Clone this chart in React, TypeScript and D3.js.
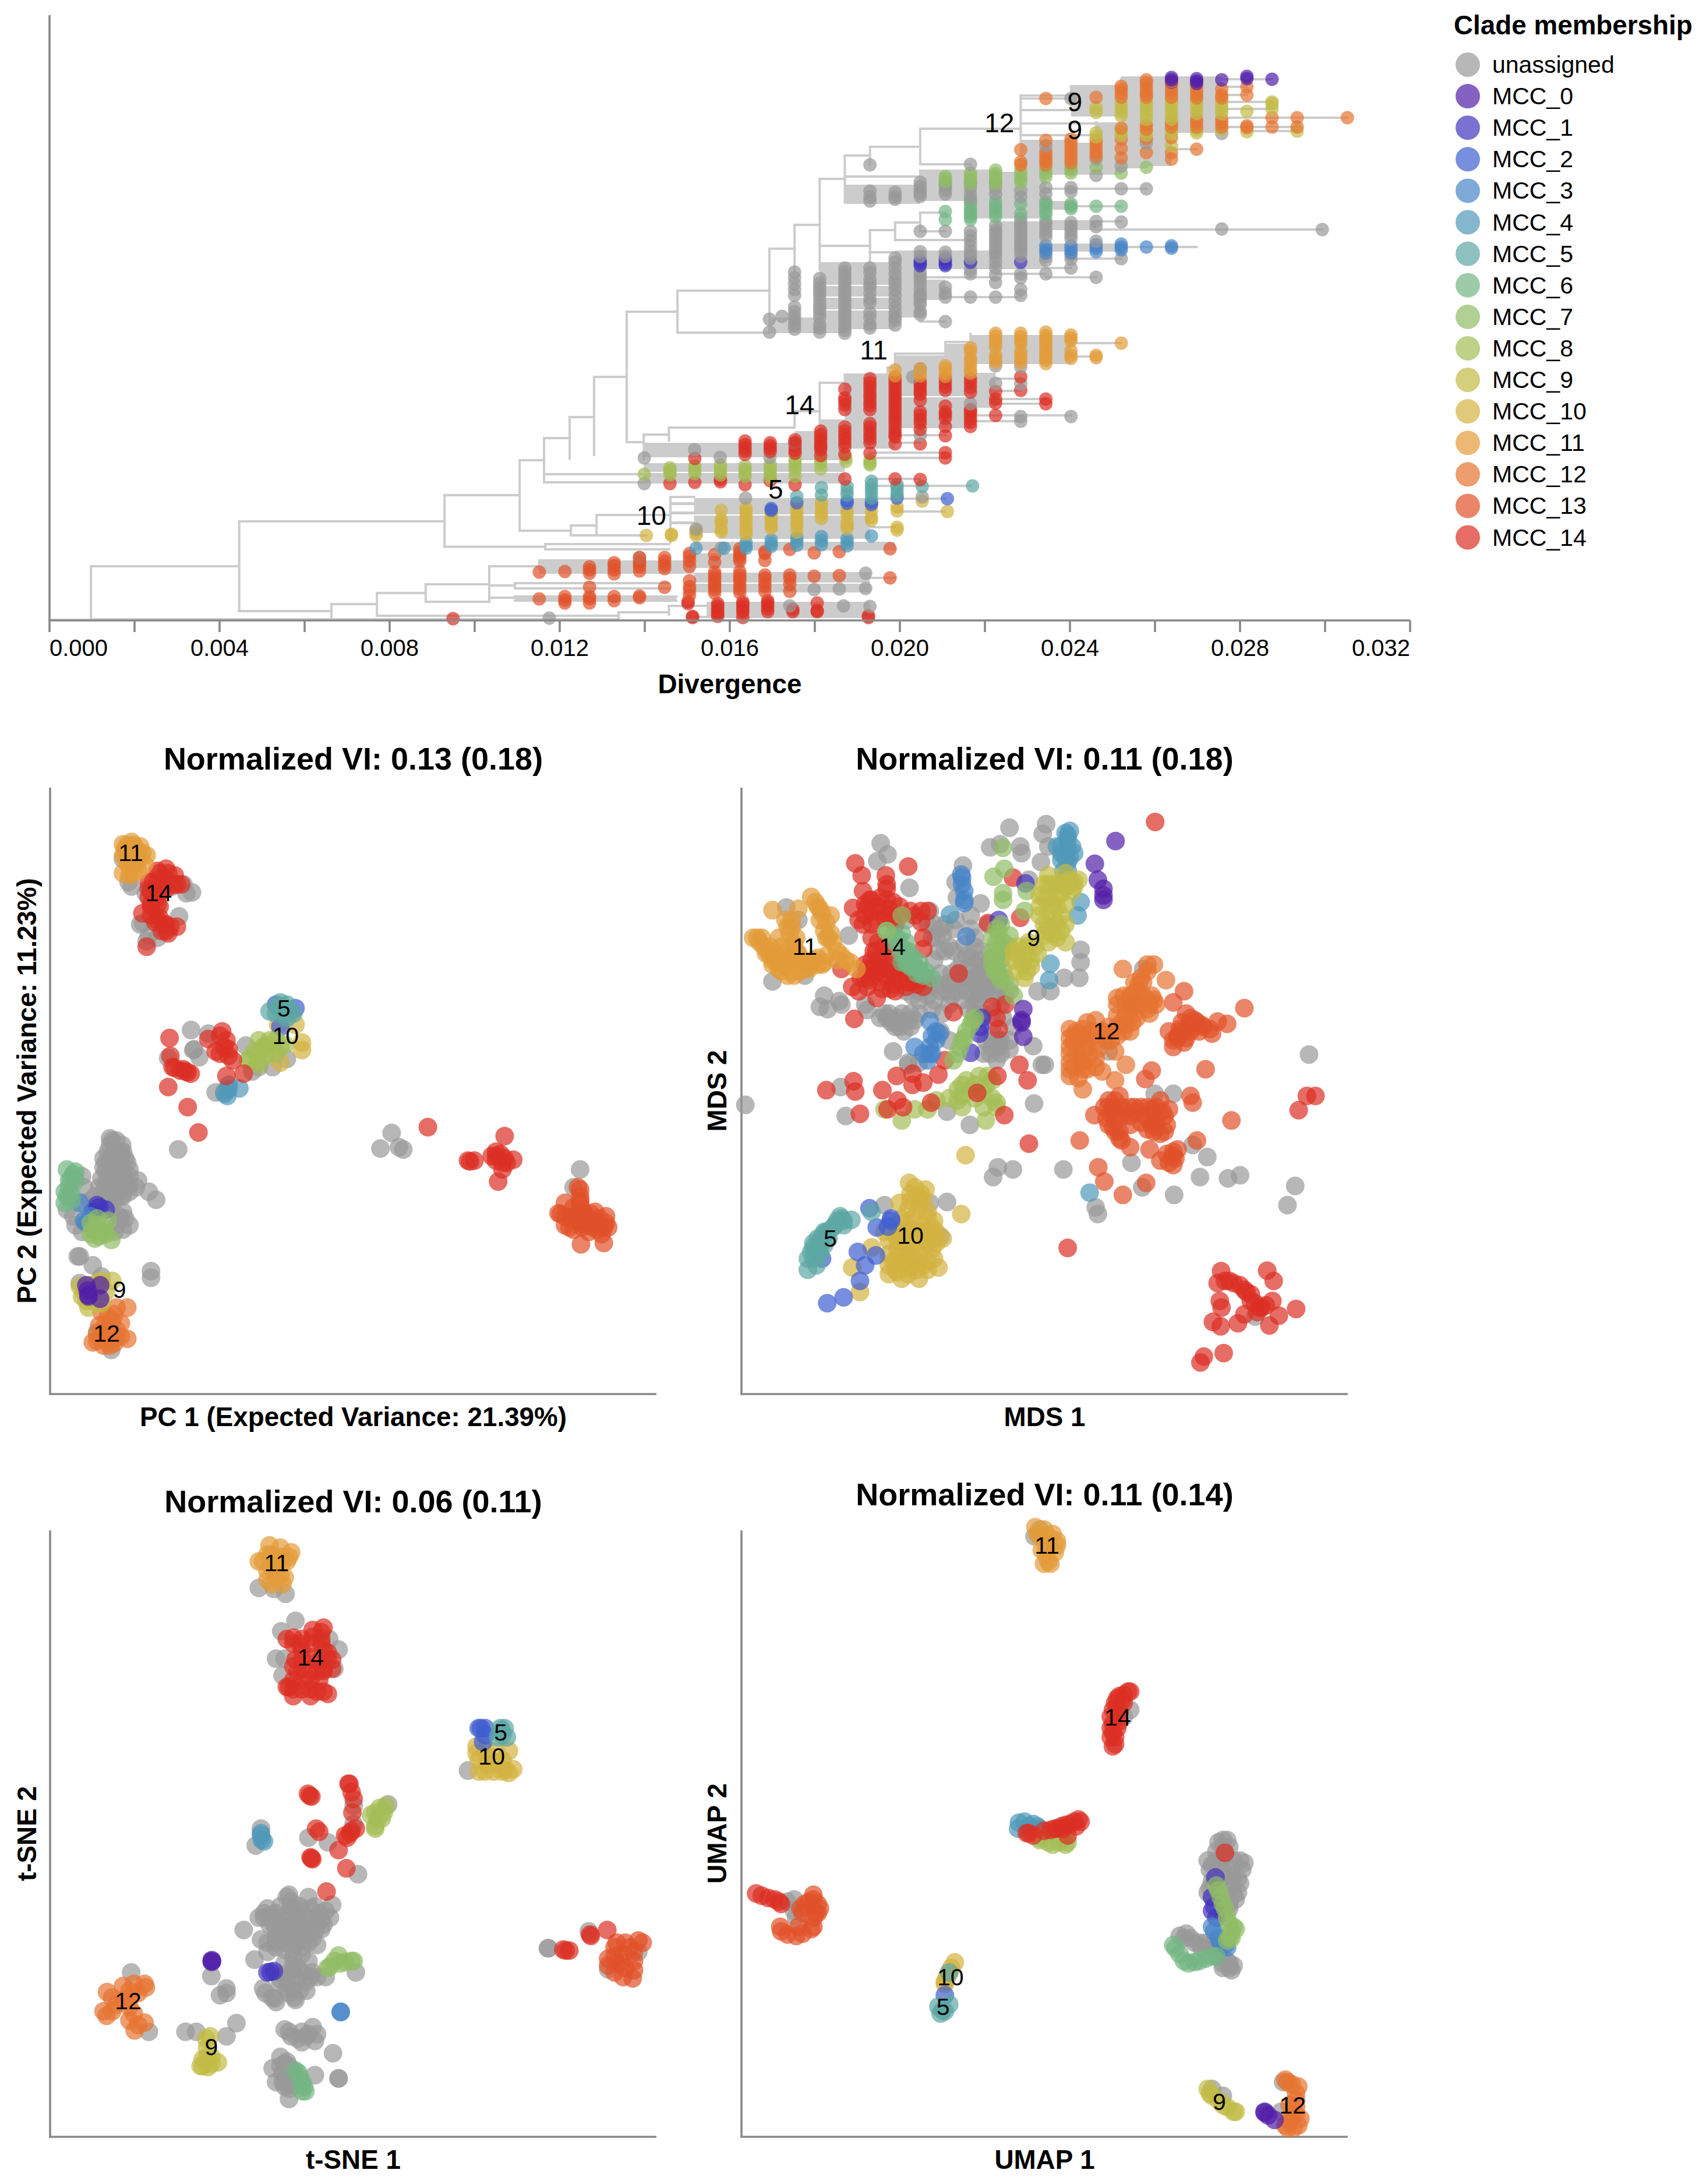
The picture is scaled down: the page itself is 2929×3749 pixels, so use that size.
import React from 'react';
import * as d3 from 'd3';

// ---------- clades ----------
const cladeNames = ['MCC_0','MCC_1','MCC_2','MCC_3','MCC_4','MCC_5','MCC_6','MCC_7','MCC_8','MCC_9','MCC_10','MCC_11','MCC_12','MCC_13','MCC_14'];
const cladeColors = ['#511EA8','#4334BF','#3F5ED0','#4784C7','#5098B9','#5CA7A4','#73B583','#90BC65','#A4BE56','#C2BA46','#D3B240','#E39B39','#E67431','#E1512A','#DC2F24'];
const unassignedColor = '#999999';
const cladeDrawOrder = [13,4,10,2,5,8,14,11,1,3,6,7,12,9,0];

// ---------- tree axis ----------
const divergenceTicks = [0,.002,.004,.006,.008,.01,.012,.014,.016,.018,.02,.022,.024,.026,.028,.03,.032];
const divergenceLabels = ['0.000','','0.004','','0.008','','0.012','','0.016','','0.020','','0.024','','0.028','','0.032'];
const mutationDivergence = 0.000591;
const rootMutations = 0.35;

// ---------- tree: horizontal branches [row, fromMutations, toMutations] ----------
const stemBranches = [[1064,.35,2],[972,2,7.9],[895,7.9,16.07],[850,16.07,19.06],[790,19.06,20.03],[814,20.03,24],[828,20.03,24],[752,20.03,21.05],[716,21.05,22.02],[647,22.02,23.32],[759,23.32,24],[746,24,25],[734,25,30],[706,30,31],[657,31,32],[643,32,33.7],[631,33.7,34],[607,34,36],[587,36,37],[535,23.32,25.34],[499,25.34,29],[571,25.34,29],[427,29,30],[386,30,31],[307,31,32],[267,32,33],[252,33,35],[282,35,37],[221,35,39],[303,32,35],[293,35,38],[422,31,33],[395,33,34],[382,34,35],[365,35,36],[397,35,36],[412,34,37],[433,33,34],[911,19.06,21.1],[902,21.1,22.12],[884,22.12,25.06],[919,21.1,24.1],[853,25.06,26],[938.6,16.07,20.08],[934,20.08,25],[943,20.08,25],[1049,7.9,11.57],[1037,11.57,13.38],[1018,13.38,15.32],[1003,15.32,17.85],[972,17.85,19.84],[962,19.84,23],[976,19.84,23],[1033,15.32,17.85],[1057,13.38,23],[1063,2,23],[1005,17.85,18.87],[1001,18.87,25],[1010,18.87,25],[1026,17.85,18.87],[1024,18.87,25.3],[1031,18.87,25.3],[1051,23,25],[1040,25,27]];
const tipBranches = [[136,43,49],[175,47,49],[187,47,49],[202,46,52],[218,47,50],[225,48,50],[256,44,46],[287,40,44],[297,40,43],[324,40,44],[354,40,43],[380,42,43],[394,42,51],[424,42,46],[444,41,43],[460,38,41],[476,40,42],[148,41,43],[164,39,41],[189,39,41],[169,39,42],[212,39,42],[232,39,42],[149,47,48],[163,47,48],[589,41,43],[612,41,42],[650,38,39],[671,37,39],[713,37,41],[723,37,39],[685,37,40],[693,38,40],[777,33,36],[786,33,36],[760,33,35],[747,34,36],[822,33,35],[834,33,37],[856,33,36],[878,34,36],[905,33,34],[920,32,33],[942,31,34],[984,29,33],[992,31,34],[1010,30,33],[1041,29,33],[1059,26,33],[510,35,39],[552,35,36],[476,35,38],[470,38,40]];
// ---------- tree: vertical connectors [mutations, fromRow, toRow] ----------
const connectors = [[2,972,1064],[7.9,895,1049],[16.07,850,938.6],[19.06,790,911],[20.03,752,828],[21.05,716,787],[22.02,647,781],[23.32,535,759],[25.34,499,571],[24,746,788],[25,734,756],[30,706,734],[31,657,743],[32,643,673],[33.7,631,643],[34,607,631],[36,587,610],[37,573,600],[29,427,570],[30,386,467],[31,307,463],[32,267,347],[33,252,283],[35,221,282],[35,293,330],[33,395,450],[34,382,412],[35,365,397],[21.1,902,919],[22.12,884,919],[25.06,853,931],[20.08,934,943],[11.57,1037,1063],[13.38,1018,1057],[15.32,1003,1033],[17.85,972,1031],[19.84,962,976],[18.87,1001,1010],[39,164,225],[39,221,290],[41,148,189],[43,135,150],[42,210,232],[23,1051,1062],[25,1040,1055]];
// ---------- tree: dense bundles of tip branches [fromMutations, toMutations, fromRow, toRow] ----------
const branchBundles = [[32,35,317,350],[35,40,295,345],[37,40,345,375],[38,40,380,440],[34,40,430,462],[31,34,450,489],[31,34,491,509],[31,34,511,531],[31,34,533,565],[34,35,450,545],[35,36,480,515],[29,32,545,572],[39,41,240,300],[40,43,245,300],[41,43,150,200],[43,47,131,228],[42,45,210,285],[40,43,418,432],[40,42,378,395],[40,41,345,360],[37,41,575,625],[36,37,590,630],[34,36,610,640],[34,37,627,680],[34,37,682,735],[32,34,645,735],[31,34,720,770],[30,32,740,790],[37,38,640,700],[24,30,760,785],[24,32,795,810],[24,32,812,830],[30,32,745,790],[26,33,855,883],[26,33,885,915],[27,33,915,925],[25.06,27,862,867],[25.06,27,878,883],[25.06,27,895,900],[26,34,930,945],[19.84,26,962,985],[26,28,950,975],[26,33,983,1000],[26,33,1002,1017],[26.5,33,1033,1060],[18.87,25.3,1024,1031]];

// ---------- tree tips: [mutations, row, row, ...] ----------
const tipsUnassigned = [[29,548,570],[29.5,543],[30,467,477,487,497,507,527,535,543,550,558,565],[31,478,486,493,500,507,515,523,530,537,545,557,563,570],[32,460,467,473,480,487,494,500,507,513,520,527,534,540,547,553,560,567,572],[33,283,328,338,345,460,468,480,487,493,503,513,520,537,545,557,563],[34,330,337,342,443,450,460,470,480,488,497,507,517,527,537,545,550,558],[35,313,320,327,332,337,397,432,440,467,473,480,488,497,505,510,517,523,535,540,633,747],[36,315,320,327,333,397,433,440,493,503,510,552],[37,282,315,323,333,340,397,405,413,422,430,437,443,452,463,470,510,693],[38,315,323,333,387,395,400,407,413,420,427,433,440,450,460,472,485,510,628,658],[39,327,338,375,382,388,393,400,407,413,420,426,432,440,470,477,497,507,630,659,715,723],[40,250,322,333,379,385,393,400,407,440,447,470],[41,169,322,329,382,389,396,403,410,438,445,460,715],[42,273,301,380,389,414,476],[43,285,324,381,444],[44,246,324],[47,229,393],[51,394],[34.7,647],[24.02,786,830],[26.02,772],[27.04,785],[28.05,855],[29.02,785],[30,760],[23.83,957],[30.78,1012],[31.78,1011],[29.81,1040],[31.95,1040],[32.83,984,1010],[33,1041],[20.24,1061],[27.08,941],[26.08,908],[35.08,853]];
const tipsMcc0 = [[45,133,137,141],[46,135,139,143],[47,137],[48,131,135],[49,136]];
const tipsMcc1 = [[35,448,452,456],[36,444,448,453,456],[37,450],[39,450]];
const tipsMcc2 = [[29.07,873,876],[30.09,863],[32.09,860,864],[33.06,862,866],[34.08,855],[36.08,856]];
const tipsMcc3 = [[40,422,428,434],[41,422,428,434],[42,420,426,432],[43,419,424,429],[44,424],[45,422,426]];
const tipsMcc4 = [[26.08,941],[27.2,941],[28.07,931,937,941],[29.07,927,933,938],[30.09,923,929,936],[31.07,921,928,935],[32.09,925,931,937],[33.06,920]];
const tipsMcc5 = [[30.09,852],[31.07,837,850],[32.09,835,843,850],[33.06,826,833,840,847,855],[34.08,832,837,844,850],[35.08,835],[37.08,834]];
const tipsMcc6 = [[36,363,377],[37,345,350,357,362,367,372,377],[38,345,352,358,365,372],[39,350,367],[40,346,350,356,363,368],[41,350,354,358],[42,354],[43,354]];
const tipsMcc7 = [[36,303,307,312],[37,297,303,309,315],[38,292,298,304,310,315],[39,293,300,307,313],[40,290,297,304],[41,288,292,297],[42,287],[43,297],[44,287]];
const tipsMcc8 = [[24.02,814],[25.04,803,807,811,815],[26.03,800,807,813],[27.05,798,804,810,815],[28.03,800,806,812,818],[29.03,797,803,809,815,820],[30.02,789,795,801,807,818],[31.04,789,795,805],[32.04,786,792],[33,790,795,798]];
const tipsMcc9 = [[42,185,193,228,235],[43,178,185,192,199,226,232],[44,175,182,190,197,205,225,232],[45,172,178,185,192,199,205,223,230,250],[46,172,180,188,195,223,228],[47,175,182,188,195,222],[48,191,226],[49,175,178,187],[50,225]];
const tipsMcc10 = [[24.1,919],[25.1,917,919],[26.08,911,915,919],[27.08,876,892,897,908,913],[28.07,872,878,885,892,900,907,913,917],[29.07,878,883,890,897,903,907],[30.09,870,877,883,890,897,903,913],[31.07,862,868,877,883,890],[32.09,877,883,896,902,907],[33.06,868,877,888,893],[34.08,870,877,905,910],[35.08,860],[36.08,878]];
const tipsMcc11 = [[34,635,645],[35,633,640,645],[36,628,633,640,646],[37,597,603,615,621,628,635,640],[38,572,577,583,590,596,610,617,622],[39,572,578,585,590,603,610,616,623],[40,570,576,582,587,593,600,606,612,618,624],[41,575,580,585,602,610,615],[42,610,614],[43,589]];
const tipsMcc12 = [[39,257,278,283],[40,169,241,260,266,272,277,283],[41,239,245,252,259,266,273,280],[42,167,241,248,255,262,268],[43,148,153,160,167,220,239,255,271],[44,137,142,149,156,162,167,215,222,238,262],[45,140,146,153,160,167,211,218,236,262,273],[46,148,155,162,168,205,211,218,256],[47,153,163,168,205,211,218],[48,149,163,216,219],[49,202,218],[50,202,218],[52,202]];
const tipsMcc13 = [[19.84,982,1028],[20.86,981,1024,1030,1035],[21.84,973,978,984,1008,1024,1028,1035],[22.82,966,971,978,985,1024,1031],[23.83,957,963,968,973,980,1023,1026],[24.83,957,963,970,976,1008],[25.82,950,955,963,972,997,1007,1013,1022],[26.82,952,965,982,987,992,997,1002,1007,1012,1018],[27.82,942,948,953,958,963,981,987,992,997,1005,1011,1017],[28.82,947,950,962,987,992,1000,1007,1015],[29.81,943,987,993,1003,1015],[30.78,949,989],[31.78,947,988],[33.8,942,992]];
const tipsMcc14 = [[16.41,1062],[25.76,1033,1036],[25.94,1058,1060],[26.94,1036,1040,1045,1050,1054,1058],[27.94,1033,1037,1042,1047,1052,1060],[28.93,1031,1035,1040,1045,1050],[29.93,1046,1050],[30.9,1035,1048,1050],[32.94,1057,1060],[25.04,830],[26.03,787,828],[27.05,823,827],[28.03,757,763,768,774,780,832],[29.03,760,765,770,775,825],[30.02,755,760,766,773,778,832],[31.04,740,746,752,757,763,767,772,782],[32,668,683,688,695,703,733,740,747,753,760,767,780,822],[33,650,657,663,670,677,683,690,696,703,727,733,740,747,753,760,778],[34,648,654,660,666,672,678,684,690,696,702,708,714,720,726,733,740,746,750,762,822],[35,655,660,666,672,677,687,707,713,720,727,737,762,823],[36,650,657,664,670,697,707,712,718,732,748,777,786],[37,650,657,665,673,703,707,713,719,725,732],[38,672,685,692,713],[39,647,670],[40,685,693]];

// ---------- tree clade labels [text, mutations, row] ----------
const treeLabelText = ['12','9','9','11','14','5','10'];
const treeLabelMutations = [38.15,41.15,41.15,33.15,30.2,29.25,24.3];
const treeLabelRows = [211,175,223,601,695,840,885];

// ---------- legend ----------
const legendTitle = 'Clade membership';
const legendEntries = ['unassigned', ...cladeNames];

// ---------- PCA embedding ----------
const pcaUnassigned = [[285,293],[305,355],[432,370],[445,368],[425,350],[415,422],[332,437],[340,478],[365,470],[350,370],[338,370],[325,440],[345,465],[400,355],[298,345],[443,677],[483,685],[450,720],[448,722],[462,738],[390,740],[500,817],[520,815],[585,770],[632,760],[665,742],[600,760],[570,712],[413,945],[908,908],[882,943],[925,940],[935,945],[1345,990],[1330,1030],[255,920],[283,935],[250,950],[280,950],[260,970],[290,965],[240,985],[270,985],[300,990],[250,1010],[280,1010],[320,1015],[230,1030],[260,1035],[290,1030],[315,1030],[345,1040],[362,1058],[220,1050],[250,1055],[280,1050],[195,1030],[190,1005],[155,1080],[175,1115],[290,1100],[270,1115],[285,1085],[185,1185],[215,1205],[350,1218],[350,1233],[185,1245],[235,1230],[258,1395],[225,1355],[255,935],[270,925],[285,950],[240,965],[255,965],[275,965],[295,975],[245,995],[265,1000],[285,995],[300,1005],[235,1010],[265,1020],[280,1030],[300,1025],[240,1040],[270,1050],[225,1065],[255,1070],[300,1115],[285,1125],[265,1130],[190,1130],[170,1095],[195,1065],[180,1185],[260,925],[265,950],[245,975],[270,975],[280,975],[290,1010],[245,1025],[285,1050],[250,1040],[265,1060],[300,1040],[240,1055],[210,1060],[280,1100],[275,1095]];
const pcaClades: Record<number, number[][]> = {
  6: [[155,990],[175,995],[165,1010],[160,1030],[155,1050],[150,1065],[165,1045],[170,1000],[160,1015],[175,1015],[150,1040],[165,1060]],
  3: [[185,1065],[195,1105],[210,1095],[200,1110]],
  1: [[225,1070],[245,1080],[215,1085],[230,1075]],
  7: [[225,1100],[215,1125],[240,1120],[210,1135],[258,1148],[250,1105],[230,1140],[225,1115],[235,1130],[210,1110],[245,1135],[220,1145]],
  9: [[185,1252],[190,1275],[205,1300],[235,1240],[260,1240],[245,1265],[215,1285],[210,1250],[235,1290],[195,1265],[220,1265],[200,1285],[225,1245]],
  0: [[200,1250],[205,1272],[232,1250],[232,1280],[203,1262],[205,1275]],
  12: [[235,1310],[270,1300],[295,1300],[230,1340],[260,1330],[280,1335],[225,1360],[255,1360],[280,1365],[295,1370],[215,1378],[240,1385],[265,1380],[250,1345],[270,1350],[240,1370],[255,1385],[270,1365],[225,1375],[245,1335],[265,1315],[250,1320]],
  11: [[295,262],[310,262],[290,275],[330,280],[310,295],[300,310],[285,325],[310,325],[290,270],[285,260],[305,255],[325,265],[340,285],[285,285],[305,280],[325,290],[295,300],[315,305],[335,305],[300,330],[320,320],[300,290],[315,270]],
  14: [[370,325],[390,325],[355,345],[380,345],[410,350],[350,365],[375,365],[350,395],[365,395],[330,415],[365,430],[385,440],[410,445],[385,455],[340,490],[365,320],[385,315],[405,330],[420,350],[345,345],[365,340],[385,340],[405,350],[345,360],[365,360],[385,360],[345,380],[365,380],[350,400],[370,400],[350,420],[370,425],[360,435],[380,440],[395,445],[375,455],[390,460],[393,695],[395,735],[400,760],[425,765],[435,772],[390,805],[435,850],[460,907],[483,697],[515,680],[525,700],[510,730],[530,720],[540,745],[525,780],[565,775],[510,690],[520,715],[500,725],[530,735],[405,762],[418,768],[430,770],[442,775],[992,895],[1170,915],[1085,970],[1100,970],[1150,950],[1150,970],[1170,965],[1190,968],[1165,990],[1155,1017],[1150,960],[1165,975],[1140,960],[1160,955],[1175,975],[1090,972]],
  5: [[625,635],[645,628],[665,620],[680,640],[660,640],[640,640],[655,625],[670,635],[650,615],[665,650]],
  2: [[685,628],[650,670],[640,620]],
  10: [[645,665],[685,665],[700,705],[700,722],[650,750]],
  8: [[580,740],[600,700],[620,710],[640,700],[600,730],[600,755],[630,720],[660,710],[610,715],[590,725],[575,745],[600,745],[625,700],[650,715],[615,735],[640,730]],
  4: [[527,825],[555,808],[530,800],[520,820],[530,810]],
  13: [[1345,1035],[1345,1060],[1310,1065],[1295,1088],[1310,1095],[1340,1090],[1380,1085],[1405,1095],[1320,1120],[1350,1120],[1385,1125],[1410,1120],[1347,1158],[1400,1155],[1365,1100],[1340,1030],[1345,1050],[1330,1075],[1350,1080],[1370,1090],[1390,1100],[1320,1100],[1340,1105],[1360,1115],[1400,1120],[1310,1115],[1375,1120],[1395,1135],[1330,1125],[1345,1110],[1300,1090],[1330,1095],[1360,1095],[1380,1105],[1405,1110],[1365,1130],[1390,1115],[1355,1100],[1345,1085],[1345,1065]],
};
const pcaLabels: [string, number, number][] = [['11',303,280],['14',368,370],['5',658,628],['10',662,690],['9',277,1260],['12',247,1358]];

// ---------- MDS embedding ----------
const mdsUnassigned = [[381,258],[397,283],[373,298],[448,358],[162,402],[190,430],[130,568],[205,555],[307,465],[250,600],[285,612],[258,630],[350,632],[495,410],[520,450],[525,465],[505,520],[470,550],[440,590],[490,600],[525,640],[550,570],[580,590],[610,580],[640,560],[570,520],[590,515],[615,500],[540,620],[570,610],[605,610],[640,600],[600,640],[660,620],[620,540],[650,530],[655,700],[640,700],[660,730],[635,730],[410,725],[395,650],[420,650],[445,655],[460,655],[415,670],[380,650],[440,430],[445,750],[470,750],[680,223],[658,260],[635,267],[705,265],[708,280],[753,300],[765,215],[757,237],[770,265],[572,308],[555,345],[613,393],[590,420],[558,380],[630,440],[575,485],[725,340],[845,497],[845,525],[807,560],[842,560],[775,590],[745,590],[735,713],[755,755],[762,755],[737,842],[588,890],[535,860],[67,845],[300,870],[288,805],[653,985],[688,990],[642,1007],[805,990],[880,1075],[885,1090],[1017,820],[1060,820],[963,975],[1139,962],[1105,935],[1122,1007],[1187,1010],[1215,1003],[1062,1047],[988,1030],[1375,732],[1343,1027],[1325,1070],[1250,1320],[535,1063],[520,1140],[495,1065],[390,1070],[965,620],[990,540],[910,725],[570,560],[590,560],[610,560],[630,550],[600,530],[620,570],[560,590],[545,600],[595,600],[630,575],[650,590],[610,595],[540,570],[515,575],[490,570],[680,590],[600,620],[640,680],[625,700],[660,700],[680,720],[620,730],[390,640],[405,660],[430,660],[450,640],[470,640],[400,640],[430,640],[530,500],[550,450],[580,510],[540,490],[600,470],[610,550],[490,440],[510,470],[455,600],[470,590],[500,630],[520,680],[540,700],[560,540],[585,540],[610,520],[635,520],[575,575],[600,575],[625,590],[655,575],[670,600],[520,590],[505,610],[535,590],[585,630],[620,640],[640,640],[665,650],[690,670],[640,715],[655,715],[680,700],[650,745],[445,755],[550,500],[555,430],[530,440],[505,440],[500,470],[515,500],[590,450],[600,490],[410,655],[425,670],[450,670],[435,680],[240,625],[290,620],[345,620],[495,580],[470,610],[520,550],[545,550]];
const mdsClades: Record<number, number[][]> = {
  14: [[322,303],[337,330],[445,310],[393,330],[340,365],[395,360],[317,403],[355,385],[395,385],[425,400],[490,410],[340,440],[370,430],[415,440],[475,435],[450,410],[375,480],[480,495],[385,520],[370,550],[410,550],[450,570],[290,540],[315,580],[330,590],[372,605],[405,585],[320,652],[440,570],[380,570],[562,550],[630,437],[705,425],[688,335],[550,637],[640,625],[670,620],[650,650],[655,675],[530,745],[515,777],[418,780],[455,775],[455,800],[480,795],[385,812],[420,835],[397,855],[433,850],[498,840],[605,818],[652,780],[722,790],[703,755],[668,868],[318,792],[322,815],[255,812],[333,865],[725,932],[815,1166],[1018,210],[395,350],[360,385],[380,380],[410,390],[350,400],[375,400],[400,405],[425,420],[345,420],[360,440],[390,425],[460,420],[475,410],[370,500],[390,490],[360,520],[375,520],[400,530],[350,540],[375,545],[395,560],[420,565],[440,560],[465,575],[480,580],[410,575],[355,565],[385,585],[430,520],[345,560],[360,470],[480,470],[345,395],[360,410],[380,410],[400,420],[410,430],[330,430],[365,500],[345,530],[365,535],[385,535],[405,540],[425,545],[445,550],[460,560],[335,560],[350,580],[470,565],[400,500],[425,540],[455,540],[440,580],[415,590],[1171,1218],[1163,1245],[1190,1240],[1215,1250],[1230,1265],[1240,1285],[1260,1300],[1278,1217],[1293,1240],[1290,1285],[1168,1285],[1172,1300],[1225,1315],[1345,1303],[1305,1318],[1283,1340],[1210,1335],[1152,1332],[1170,1342],[1123,1423],[1131,1410],[1177,1402],[1351,857],[1390,825],[1370,825],[1180,1240],[1200,1245],[1225,1260],[1240,1270],[1250,1290],[1265,1300],[1275,1295],[1255,1310]],
  11: [[220,378],[130,408],[190,405],[240,405],[235,400],[160,430],[175,445],[265,420],[265,460],[85,470],[105,470],[125,490],[145,470],[185,470],[115,505],[150,510],[180,520],[220,530],[130,530],[150,545],[180,555],[205,540],[245,530],[290,510],[310,525],[325,540],[260,470],[95,470],[110,490],[125,510],[140,525],[160,535],[175,545],[195,545],[215,540],[235,530],[255,510],[165,445],[170,460],[180,485],[190,505],[165,520],[230,390],[245,415],[255,435],[250,455],[270,480],[280,500],[300,520],[200,520],[235,515],[130,520],[150,490],[120,500],[135,505],[165,500],[210,525],[225,520],[250,525],[185,500],[175,430],[240,430],[255,470],[100,480],[145,540],[165,555],[195,530],[280,520],[160,520]],
  6: [[395,455],[410,465],[440,480],[450,510],[430,525],[460,535],[480,555],[500,560],[430,460],[465,550],[425,490],[445,500],[430,505],[440,525],[455,520],[470,540],[485,545],[420,470],[435,495],[450,535],[415,480],[455,515],[470,525],[445,530],[475,550],[440,510]],
  3: [[568,328],[575,365],[575,392],[580,467],[495,657],[518,685],[495,715],[460,715],[490,745],[510,700],[570,335],[575,385],[500,730],[500,690],[510,680],[480,730],[495,730],[570,350]],
  4: [[542,418],[820,230],[815,250],[815,270],[800,280],[830,280],[815,300],[805,320],[775,528],[772,565],[845,390],[838,420],[866,1042],[815,240],[820,290],[800,295],[790,265],[810,235],[825,265],[810,290],[800,265],[815,320]],
  0: [[926,253],[878,304],[885,340],[898,360],[898,385],[712,630],[708,660],[712,692],[898,375],[708,655]],
  1: [[717,348],[655,430],[615,650],[610,685],[590,728],[612,670]],
  7: [[665,268],[643,333],[668,315],[665,370],[665,385],[720,365],[715,410],[660,440],[680,465],[650,480],[650,510],[650,540],[670,560],[690,600],[600,650],[580,680],[570,700],[560,730],[550,745],[430,420],[395,455],[590,665],[595,655],[575,695],[565,715],[655,460],[665,480],[640,500],[660,520],[640,530],[655,555],[680,575],[665,540],[650,450],[640,470],[670,500],[645,545],[660,500],[680,490],[660,565],[640,515]],
  9: [[770,350],[810,325],[840,340],[790,380],[770,410],[800,420],[770,445],[790,470],[810,480],[760,465],[720,490],[690,500],[710,530],[715,560],[730,520],[750,375],[825,365],[780,350],[760,380],[780,395],[800,370],[830,345],[750,420],[760,440],[785,430],[810,440],[780,460],[770,480],[740,490],[720,510],[700,510],[700,545],[720,545],[690,520],[770,330],[800,345],[820,340],[790,400],[810,395],[770,380],[750,400],[790,440],[765,455],[745,505],[725,480],[700,490],[730,535],[800,455],[830,355],[790,350],[810,355],[760,350]],
  8: [[630,780],[610,780],[580,790],[560,810],[540,830],[510,835],[620,820],[650,850],[625,880],[390,855],[430,880],[460,855],[490,855],[570,850],[650,840],[600,800],[570,825],[590,810],[570,800],[600,830],[625,800],[640,790],[640,830],[560,835],[620,850]],
  12: [[943,540],[1015,530],[1000,545],[970,570],[1043,565],[930,605],[965,600],[1000,610],[1005,640],[960,630],[940,660],[960,680],[820,675],[850,675],[880,655],[910,670],[820,715],[850,700],[880,700],[905,700],[820,750],[850,750],[880,740],[820,780],[850,810],[895,770],[925,725],[950,755],[925,790],[960,600],[975,590],[990,570],[1010,600],[1020,620],[950,640],[980,620],[1000,630],[975,650],[945,680],[965,660],[930,690],[830,690],[850,690],[870,680],[895,680],[830,705],[860,715],[885,720],[835,730],[865,735],[830,760],[860,765],[840,785],[915,700],[1000,530],[985,560],[945,600],[930,620],[860,660],[820,695],[820,730],[820,765],[835,680],[840,700],[850,720],[875,690],[845,745],[850,765],[880,760],[905,685],[930,645],[950,620],[980,575],[1005,620],[990,600],[1015,610],[970,640],[950,665],[930,670],[960,615]],
  13: [[1085,590],[1060,615],[1225,628],[1100,650],[1075,675],[1050,680],[1100,680],[1130,670],[1060,715],[1085,705],[1150,685],[1185,663],[1163,658],[1135,765],[1010,768],[995,787],[910,835],[935,825],[877,868],[915,865],[960,850],[1000,850],[1030,835],[1050,855],[920,895],[960,890],[1010,890],[1040,905],[940,925],[960,940],[1005,945],[1070,945],[1030,970],[1060,980],[1115,925],[1100,825],[1105,840],[1195,880],[843,925],[886,985],[900,1017],[997,1020],[943,1047],[1080,680],[1100,665],[1120,680],[1090,695],[1070,695],[1115,660],[1090,640],[1105,670],[1145,675],[900,850],[920,850],[940,850],[975,860],[995,870],[1015,865],[1035,860],[905,875],[925,880],[945,870],[985,885],[1015,905],[1030,910],[925,905],[935,920],[1000,900],[1060,950],[1065,965],[1045,955],[1020,880],[960,870],[910,850],[925,835],[950,860],[930,865],[970,850],[985,850],[1010,855],[1040,870],[1000,875],[1020,895],[910,890],[935,905],[1045,890],[1020,850],[1070,690],[1110,655],[1095,670],[1060,700],[1080,660],[1125,665],[1060,960],[1050,975]],
  10: [[578,958],[447,1020],[485,1035],[465,1050],[425,1065],[468,1080],[505,1105],[430,1100],[475,1115],[510,1130],[420,1150],[400,1150],[470,1150],[525,1145],[445,1180],[490,1195],[410,1195],[515,1210],[400,1225],[430,1235],[470,1235],[568,1090],[360,1165],[315,1210],[333,1265],[450,1060],[480,1060],[445,1080],[490,1085],[440,1110],[455,1100],[500,1120],[420,1125],[440,1130],[490,1130],[505,1145],[440,1155],[490,1155],[420,1170],[460,1170],[500,1170],[430,1200],[450,1205],[470,1200],[490,1215],[415,1215],[445,1225],[465,1215],[400,1180],[390,1130],[460,1030],[475,1045],[450,1045],[470,1065],[490,1100],[480,1130],[455,1125],[430,1145],[415,1135],[460,1140],[480,1165],[510,1155],[440,1170],[400,1205],[420,1220],[440,1210],[460,1190],[480,1205],[505,1190],[425,1185]],
  2: [[355,1077],[405,1100],[398,1118],[372,1120],[328,1175],[370,1183],[345,1205],[333,1240],[295,1277],[257,1290],[245,1190],[405,1105]],
  5: [[287,1095],[313,1103],[295,1115],[255,1130],[235,1145],[225,1155],[250,1160],[240,1180],[212,1190],[232,1205],[212,1215],[360,1085],[270,1120],[280,1105],[290,1100],[245,1140],[240,1155],[260,1145],[235,1170],[225,1190],[250,1130],[295,1105],[220,1175],[225,1165],[260,1130],[275,1115],[240,1165]],
};
const mdsLabels: [string, number, number][] = [['11',205,490],['14',408,490],['9',736,470],['12',905,680],['5',264,1145],['10',450,1138]];

// ---------- t-SNE embedding ----------
const tsneUnassigned = [[600,263],[635,265],[662,276],[685,335],[652,358],[785,398],[640,418],[660,418],[775,440],[655,455],[763,375],[605,790],[593,827],[715,810],[760,820],[820,740],[900,737],[820,780],[830,890],[1085,663],[670,935],[675,960],[715,940],[770,957],[620,965],[612,985],[650,985],[690,980],[740,975],[765,985],[625,1000],[660,1005],[700,1005],[745,1010],[565,1012],[605,1033],[640,1030],[680,1035],[725,1030],[620,1060],[660,1055],[700,1050],[590,1077],[715,1080],[490,1113],[680,1090],[700,1105],[655,1110],[720,1115],[755,1115],[825,1105],[525,1140],[510,1155],[615,1150],[637,1162],[682,1160],[710,1145],[670,1235],[700,1235],[725,1225],[700,1258],[730,1255],[772,1282],[430,1235],[455,1235],[525,1245],[548,1216],[632,1315],[660,1305],[680,1320],[730,1330],[785,1337],[660,1355],[670,1382],[1270,1052],[1365,1015],[345,1235],[304,1105],[1410,1098],[1480,1060],[665,940],[670,975],[680,965],[700,970],[720,965],[650,1000],[670,1020],[690,1020],[710,1020],[730,1015],[750,1000],[640,1015],[660,1040],[680,1055],[700,1065],[735,1045],[725,990],[705,985],[745,990],[670,1000],[620,1040],[640,1050],[680,1075],[660,1085],[690,1120],[710,1125],[680,1140],[650,1130],[665,1125],[630,1160],[675,1245],[710,1245],[715,1240],[660,1340],[655,1325],[670,1360],[650,1290],[665,1300],[670,1310],[1272,1052],[785,1337],[525,1150],[640,1345],[612,975],[600,985],[650,960],[640,975],[625,980],[695,960],[730,960],[755,970],[635,1000],[655,1020],[685,1000],[715,1000],[735,1000],[690,1040],[715,1040],[640,1040],[700,1035],[675,950],[680,1100],[665,1140],[695,1145],[670,1150],[650,1120],[690,1095],[725,1105],[735,1115],[610,1140],[640,1170],[685,1165],[690,1250],[660,1230],[735,1240],[655,1345],[665,1335],[650,1310],[670,1350]];
const tsneClades: Record<number, number[][]> = {
  11: [[625,170],[650,175],[675,185],[610,205],[640,205],[665,205],[620,225],[650,235],[630,255],[655,255],[630,190],[650,195],[620,190],[670,195],[630,220],[650,215],[640,240],[620,245],[660,240],[600,205]],
  14: [[725,355],[745,360],[680,372],[700,400],[750,400],[685,420],[720,415],[760,420],[690,445],[720,445],[750,445],[680,485],[720,485],[750,490],[725,370],[745,375],[700,375],[680,385],[720,385],[745,385],[700,420],[680,435],[735,425],[760,405],[700,440],[735,445],[700,465],[720,465],[740,465],[680,465],[700,485],[735,490],[665,480],[750,440],[770,420],[695,385],[665,375],[770,440],[670,480],[680,500],[750,350],[720,500],[760,495],[810,692],[820,725],[718,718],[714,714],[722,720],[817,755],[733,790],[740,797],[815,795],[805,810],[722,855],[720,853],[724,857],[785,837],[803,877],[757,928],[1312,1057],[1320,1057],[1306,1055],[1370,1025],[1368,1022],[1408,1012],[808,692],[815,710],[812,800],[800,805],[825,790]],
  8: [[895,740],[870,755],[885,768],[870,785],[860,760],[880,745],[875,770],[870,790],[890,755]],
  4: [[605,805],[612,818],[605,800],[607,815]],
  2: [[1115,570],[1125,585],[1125,570],[1110,570],[1120,600]],
  5: [[1163,575],[1165,585],[1160,570],[1170,570],[1175,590],[1155,590]],
  10: [[1105,610],[1180,620],[1110,640],[1150,620],[1130,650],[1170,660],[1110,665],[1145,665],[1180,668],[1125,620],[1165,640],[1105,625],[1130,635],[1150,645],[1125,665],[1165,665],[1190,660]],
  0: [[491,1080],[491,1078],[491,1082]],
  1: [[620,1105],[635,1102],[627,1104]],
  7: [[815,1080],[785,1068],[765,1092],[790,1085],[800,1082],[775,1080],[760,1095],[820,1080]],
  3: [[790,1191],[790,1192]],
  13: [[1480,1035],[1450,1040],[1425,1050],[1470,1060],[1410,1090],[1440,1085],[1470,1100],[1445,1115],[1467,1118],[1430,1040],[1460,1050],[1445,1065],[1425,1070],[1410,1075],[1430,1085],[1450,1095],[1425,1105],[1470,1080],[1490,1040]],
  12: [[248,1148],[338,1138],[310,1130],[300,1160],[270,1175],[247,1200],[310,1195],[335,1215],[312,1232],[260,1160],[285,1165],[300,1145],[320,1150],[335,1130],[300,1180],[300,1210],[320,1220],[285,1135],[240,1190],[260,1190]],
  9: [[487,1245],[480,1270],[470,1310],[505,1302],[482,1312],[478,1250],[490,1290],[480,1290],[490,1305],[470,1295],[465,1310]],
  6: [[692,1325],[700,1345],[708,1365],[695,1335],[705,1355],[685,1320],[700,1365]],
};
const tsneLabels: [string, number, number][] = [['11',641,208],['14',720,415],['5',1161,580],['10',1140,632],['9',490,1268],['12',297,1168]];

// ---------- UMAP embedding ----------
const umapUnassigned = [[738,150],[1175,830],[1160,860],[1200,860],[1155,900],[1210,900],[1175,880],[1210,930],[1150,940],[1190,950],[1085,1030],[1120,1040],[1150,1050],[1190,1095],[165,950],[185,985],[960,530],[945,545],[1315,1345],[1310,1410],[1150,1360],[1175,1375],[1175,815],[1180,850],[1160,840],[1190,830],[1215,860],[1195,880],[1170,860],[1145,880],[1200,910],[1165,905],[1180,925],[1200,935],[1145,920],[1190,965],[1175,975],[1090,1020],[1110,1040],[1135,1040],[1165,1055],[1185,1080],[1175,1085],[180,945],[180,970],[750,135],[1190,1085],[1150,870],[1140,860],[1165,820],[1185,815],[1220,880],[1225,865],[1215,910],[1205,945],[1190,955],[1150,905],[1140,930],[1175,895],[1195,895],[1150,1045],[1100,1030],[1075,1025],[1125,1050],[1175,1095],[1195,1100],[1200,1090]];
const umapClades: Record<number, number[][]> = {
  11: [[745,145],[770,150],[790,170],[765,175],[770,205],[740,130],[760,135],[780,145],[790,160],[750,150],[770,165],[755,180],[785,185],[765,190],[775,210],[760,210]],
  14: [[960,490],[930,505],[920,530],[920,560],[920,580],[925,605],[955,490],[945,497],[935,500],[925,515],[945,515],[930,525],[915,545],[935,535],[915,570],[935,555],[915,590],[925,590],[930,570],[940,510],[920,610],[92,932],[120,942],[145,950],[105,937],[135,945],[150,955],[1180,843],[725,800],[775,793],[800,785],[840,770],[820,780],[815,805],[760,795],[790,790],[810,782],[830,775],[845,775],[785,790],[805,790],[835,785],[720,800],[735,805]],
  4: [[702,777],[735,780],[750,790],[715,775],[700,790],[725,785],[745,785]],
  8: [[750,815],[795,820],[815,820],[770,820],[750,810],[780,825],[810,825]],
  13: [[225,945],[195,965],[235,975],[225,1005],[200,1020],[165,1022],[148,1005],[225,935],[215,950],[205,955],[235,955],[240,965],[200,975],[225,985],[230,975],[220,1010],[185,1025],[150,1015],[190,1005]],
  10: [[553,1083],[540,1105],[530,1130],[545,1095],[535,1115],[530,1125]],
  5: [[540,1105],[525,1188],[540,1175],[515,1180],[530,1190],[520,1195]],
  2: [[530,1155]],
  1: [[1158,897],[1155,960],[1160,985],[1150,940],[1150,970]],
  7: [[1165,925],[1175,955],[1185,985],[1195,1015],[1190,1030],[1160,915],[1170,940],[1180,965],[1190,1000],[1200,1005],[1195,1030],[1185,1035],[1205,1010]],
  3: [[1155,1015],[1180,1045],[1150,1005],[1165,1030],[1170,1040],[1185,1050]],
  6: [[1065,1052],[1085,1080],[1120,1080],[1150,1070],[1060,1045],[1075,1065],[1095,1085],[1110,1082],[1135,1075],[1160,1070]],
  9: [[1145,1370],[1175,1395],[1200,1410],[1140,1360],[1150,1375],[1165,1385],[1185,1400],[1205,1410]],
  0: [[1272,1412],[1295,1428],[1272,1410],[1280,1418]],
  12: [[1325,1345],[1345,1370],[1345,1400],[1330,1430],[1350,1440],[1320,1440],[1320,1340],[1335,1350],[1350,1355],[1345,1385],[1330,1395],[1345,1415],[1335,1420],[1355,1425],[1325,1445],[1340,1445]],
};
const umapLabels: [string, number, number][] = [['11',767,170],['14',931,547],['10',543,1116],['5',526,1180],['9',1167,1388],['12',1337,1396]];

const panelTitles = ['Normalized VI: 0.13 (0.18)','Normalized VI: 0.11 (0.18)','Normalized VI: 0.06 (0.11)','Normalized VI: 0.11 (0.14)'];
const panelXTitles = ['PC 1 (Expected Variance: 21.39%)','MDS 1','t-SNE 1','UMAP 1'];
const panelYTitles = ['PC 2 (Expected Variance: 11.23%)','MDS 2','t-SNE 2','UMAP 2'];

const FONT = '"Liberation Sans", Arial, Helvetica, sans-serif';
const AXIS = '#888888';
const BRANCH = '#cccccc';

function Panel({ left, top, size, xDom, yDom, title, titleY, xTitle, yTitle, gray, clades, labels, yTitleX }: any) {
  const x = d3.scaleLinear().domain(xDom).range([left, left + size]);
  const y = d3.scaleLinear().domain(yDom).range([top, top + size]);
  const cx = left + size / 2;
  const cy = top + size / 2;
  return (
    <g>
      <line x1={left} x2={left} y1={top} y2={top + size} stroke={AXIS} strokeWidth={3.6} />
      <line x1={left - 2} x2={left + size} y1={top + size} y2={top + size} stroke={AXIS} strokeWidth={3.6} />
      {gray.map((p: number[], i: number) => (
        <circle key={'g' + i} cx={x(p[0])} cy={y(p[1])} r={16} fill={unassignedColor} fillOpacity={0.7} />
      ))}
      {cladeDrawOrder.map((c) =>
        (clades[c] || []).map((p: number[], i: number) => (
          <circle key={c + '-' + i} cx={x(p[0])} cy={y(p[1])} r={16} fill={cladeColors[c]} fillOpacity={0.7} />
        ))
      )}
      {labels.map((l: [string, number, number], i: number) => (
        <text key={i} x={x(l[1])} y={y(l[2])} textAnchor="middle" dominantBaseline="central" fontSize={41} fontFamily={FONT} fill="#000">{l[0]}</text>
      ))}
      <text x={cx} y={titleY} textAnchor="middle" dominantBaseline="central" fontSize={54} fontWeight="bold" fontFamily={FONT}>{title}</text>
      <text x={cx} y={top + size + 39} textAnchor="middle" dominantBaseline="central" fontSize={45.8} fontWeight="bold" fontFamily={FONT}>{xTitle}</text>
      <text transform={`translate(${yTitleX},${cy}) rotate(-90)`} textAnchor="middle" dominantBaseline="central" fontSize={45.8} fontWeight="bold" fontFamily={FONT}>{yTitle}</text>
    </g>
  );
}

export default function App() {
  const xTree = d3.scaleLinear().domain([0, 0.032]).range([85, 2421]);
  const yTree = d3.scaleLinear().domain([26, 1065]).range([26, 1065]);
  const xm = (n: number) => xTree((n - rootMutations) * mutationDivergence);

  const tips: { n: number; y: number; fill: string }[] = [];
  const addTips = (list: number[][], fill: string) => list.forEach(([n, ...rows]) => rows.forEach((r) => tips.push({ n, y: r, fill })));
  addTips(tipsUnassigned, unassignedColor);
  [tipsMcc0,tipsMcc1,tipsMcc2,tipsMcc3,tipsMcc4,tipsMcc5,tipsMcc6,tipsMcc7,tipsMcc8,tipsMcc9,tipsMcc10,tipsMcc11,tipsMcc12,tipsMcc13,tipsMcc14].forEach((l, i) => addTips(l, cladeColors[i]));
  const sortedTips = d3.sort(tips, (a, b) => d3.descending(a.y, b.y));

  const legendY = d3.scalePoint<string>().domain(legendEntries).range([111, 111 + 15 * 54.1]);
  const tickAnchor = (i: number) => (i === 0 ? 'start' : i === divergenceTicks.length - 1 ? 'end' : 'middle');

  return (
    <svg width={2929} height={3749} style={{ position: 'absolute', left: 0, top: 0, background: '#fff' }}>
      {/* tree */}
      {branchBundles.map((b, i) => (
        <rect key={'b' + i} x={xm(b[0])} width={xm(b[1]) - xm(b[0])} y={yTree(b[2])} height={yTree(b[3]) - yTree(b[2])} fill={BRANCH} />
      ))}
      {[...stemBranches, ...tipBranches].map((h, i) => (
        <line key={'h' + i} x1={xm(h[1])} x2={xm(h[2])} y1={yTree(h[0])} y2={yTree(h[0])} stroke={BRANCH} strokeWidth={4} strokeLinecap="square" />
      ))}
      {connectors.map((v, i) => (
        <line key={'v' + i} x1={xm(v[0])} x2={xm(v[0])} y1={yTree(v[1])} y2={yTree(v[2])} stroke={BRANCH} strokeWidth={4} strokeLinecap="square" />
      ))}
      {sortedTips.map((t, i) => (
        <circle key={'t' + i} cx={xm(t.n)} cy={yTree(t.y)} r={11.5} fill={t.fill} fillOpacity={0.7} />
      ))}
      {treeLabelText.map((t, i) => (
        <text key={'l' + i} x={xm(treeLabelMutations[i])} y={yTree(treeLabelRows[i])} textAnchor="middle" dominantBaseline="central" fontSize={46} fontFamily={FONT}>{t}</text>
      ))}
      {/* tree axes */}
      <line x1={85} x2={85} y1={yTree(26)} y2={yTree(1065)} stroke={AXIS} strokeWidth={3.6} />
      <line x1={xTree(0)} x2={xTree(0.032)} y1={yTree(1065)} y2={yTree(1065)} stroke={AXIS} strokeWidth={3.6} />
      {divergenceTicks.map((t, i) => (
        <g key={'tick' + i}>
          <line x1={xTree(t)} x2={xTree(t)} y1={1065} y2={1085} stroke={AXIS} strokeWidth={3.6} />
          {divergenceLabels[i] && (
            <text x={xTree(t)} y={1126} textAnchor={tickAnchor(i)} fontSize={40} fontFamily={FONT}>{divergenceLabels[i]}</text>
          )}
        </g>
      ))}
      <text x={1253} y={1174} textAnchor="middle" dominantBaseline="central" fontSize={45.8} fontWeight="bold" fontFamily={FONT}>Divergence</text>

      {/* legend */}
      <text x={2496} y={43} dominantBaseline="central" fontSize={45.8} fontWeight="bold" fontFamily={FONT}>{legendTitle}</text>
      {legendEntries.map((e, i) => (
        <g key={e}>
          <circle cx={2520} cy={legendY(e)} r={21} fill={i === 0 ? unassignedColor : cladeColors[i - 1]} fillOpacity={0.7} />
          <text x={2562} y={legendY(e)} dominantBaseline="central" fontSize={41} fontFamily={FONT}>{e}</text>
        </g>
      ))}

      <Panel left={86} top={1352} size={1041} xDom={[116,1522]} yDom={[133,1494]} title={panelTitles[0]} titleY={1302} xTitle={panelXTitles[0]} yTitle={panelYTitles[0]} yTitleX={46} gray={pcaUnassigned} clades={pcaClades} labels={pcaLabels} />
      <Panel left={1273} top={1352} size={1041} xDom={[58,1465]} yDom={[133,1494]} title={panelTitles[1]} titleY={1302} xTitle={panelXTitles[1]} yTitle={panelYTitles[1]} yTitleX={1231} gray={mdsUnassigned} clades={mdsClades} labels={mdsLabels} />
      <Panel left={86} top={2627} size={1041} xDom={[116,1522]} yDom={[137,1465]} title={panelTitles[2]} titleY={2577} xTitle={panelXTitles[2]} yTitle={panelYTitles[2]} yTitleX={46} gray={tsneUnassigned} clades={tsneClades} labels={tsneLabels} />
      <Panel left={1273} top={2627} size={1041} xDom={[58,1465]} yDom={[137,1465]} title={panelTitles[3]} titleY={2565} xTitle={panelXTitles[3]} yTitle={panelYTitles[3]} yTitleX={1231} gray={umapUnassigned} clades={umapClades} labels={umapLabels} />
    </svg>
  );
}
